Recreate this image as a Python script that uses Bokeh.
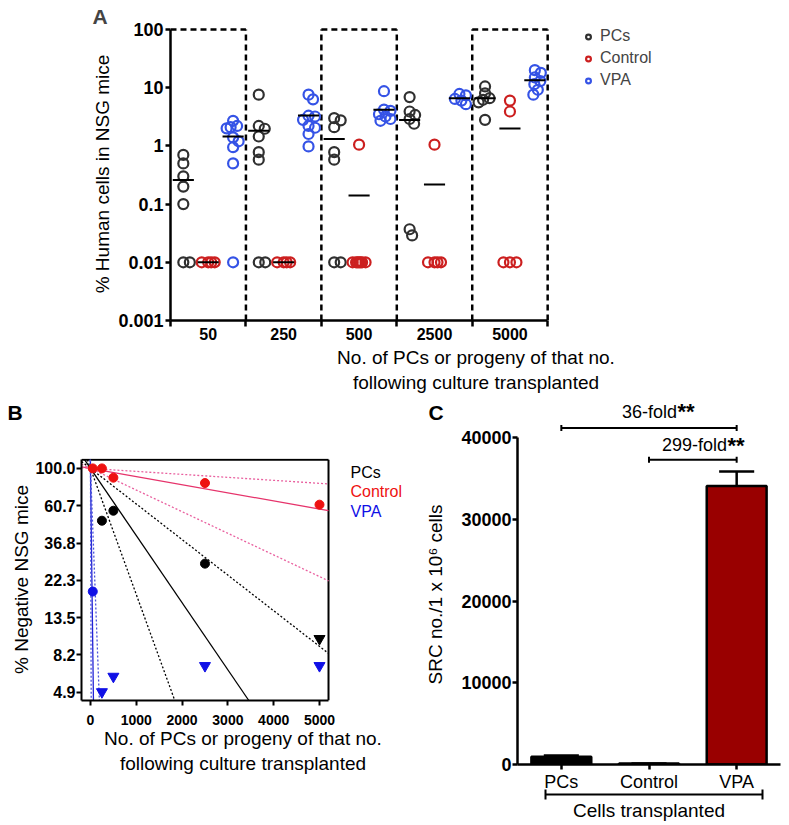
import numpy as np
from bokeh.plotting import figure
from bokeh.models import Range1d, FixedTicker, Legend, LegendItem, LinearAxis
from bokeh.layouts import column, row
from bokeh.embed import file_html
from bokeh.resources import INLINE
from bokeh.core.properties import value

FONT = "Liberation Sans"

# ---------------- Panel A data ----------------
doses_a = ["50", "250", "500", "2500", "5000"]
series_names = ["PCs", "Control", "VPA"]
pcs_a = [
    [0.7, 0.5, 0.3, 0.2, 0.1, 0.01, 0.01],
    [7.6, 2.2, 1.97, 1.45, 0.78, 0.58, 0.01, 0.01],
    [3.0, 2.75, 2.1, 0.78, 0.58, 0.01, 0.01],
    [6.9, 3.9, 3.4, 2.9, 2.4, 0.037, 0.029],
    [10.5, 8.0, 6.6, 6.2, 5.6, 2.8],
]
ctrl_a = [
    [0.01, 0.01, 0.01, 0.01],
    [0.01, 0.01, 0.01, 0.01],
    [1.05, 0.01, 0.01, 0.01, 0.01, 0.01, 0.01, 0.01],
    [1.05, 0.01, 0.01, 0.01, 0.01],
    [6.0, 3.9, 0.01, 0.01, 0.01],
]
vpa_a = [
    [2.7, 2.2, 2.1, 2.0, 1.4, 1.2, 0.95, 0.5, 0.01],
    [7.6, 6.3, 3.3, 3.2, 2.8, 2.2, 2.05, 1.6, 0.98],
    [8.7, 4.2, 4.0, 3.5, 3.2, 2.9, 2.7],
    [7.8, 7.4, 6.4, 6.0, 5.2],
    [20.0, 18.0, 15.0, 13.0, 11.5, 9.2, 7.6],
]
ticks_a_y = [0.001, 0.01, 0.1, 1, 10, 100]
ticklabels_a_y = ["0.001", "0.01", "0.1", "1", "10", "100"]
boxed_groups = [0, 2, 4]

# ---------------- Panel B data ----------------
pcs_b_dose = [250, 500, 2500]
pcs_b_neg = [49.6, 56.7, 27.9]
pcs_b_tri_dose = [5000]
pcs_b_tri_neg = [10.2]
ctrl_b_dose = [50, 250, 500, 2500, 5000]
ctrl_b_neg = [100.0, 100.0, 88.3, 82.2, 61.5]
vpa_b_dose = [50]
vpa_b_neg = [19.2]
vpa_b_tri_dose = [250, 500, 2500, 5000]
vpa_b_tri_neg = [5.0, 6.15, 7.1, 7.1]
# slopes (per cell) of the fitted lines: estimate, bound, bound
pcs_b_rates = [9.0e-4, 1.69e-3, 4.77e-4]
ctrl_b_rates = [1.09e-4, 2.9e-4, 4.0e-5]
vpa_b_rates = [0.048, 0.2, 0.016]
ticks_b_y = [100.0, 60.653, 36.788, 22.313, 13.534, 8.2085, 4.9787]
ticklabels_b_y = ["100.0", "60.7", "36.8", "22.3", "13.5", "8.2", "4.9"]
ticks_b_x = [0, 1000, 2000, 3000, 4000, 5000]

# ---------------- Panel C data ----------------
cats_c = ["PCs", "Control", "VPA"]
src_c = [947, 114, 34100]
err_c = [140, 20, 1760]
fold_labels = ["36-fold", "299-fold"]
fold_pairs = [(0, 2), (1, 2)]
ticks_c_y = [0, 10000, 20000, 30000, 40000]


def style_axis(ax, tick_size, line_w=2.5):
    ax.axis_line_width = line_w
    ax.major_tick_line_width = line_w
    ax.major_tick_in = 0
    ax.major_tick_out = 5
    ax.minor_tick_line_color = None
    ax.major_label_text_font = FONT
    ax.major_label_text_font_style = "bold"
    ax.major_label_text_font_size = tick_size
    ax.major_label_text_color = "black"
    ax.axis_label_text_font = FONT
    ax.axis_label_text_font_style = "normal"
    ax.axis_label_text_font_size = "19px"
    ax.axis_label_text_color = "black"


def bare(p):
    p.grid.visible = False
    p.outline_line_color = None
    p.background_fill_color = None
    p.border_fill_color = "white"


# ======================= Panel A =======================
PX_X = 75.43
PX_DEC = 58.2


def swarm(vals, center, min_d=6.5, max_off=6.5):
    placed = []
    xs = []
    cands = [0.0]
    for k in range(1, 40):
        cands += [k * 0.5, -k * 0.5]
    cands = [c for c in cands if abs(c) <= max_off]
    for v in vals:
        yp = np.log10(v) * PX_DEC
        best = None
        for c in cands:
            if all((c - px) ** 2 + (yp - py) ** 2 >= min_d ** 2 for px, py in placed):
                best = c
                break
        if best is None:
            best = max(cands, key=lambda c: min((c - px) ** 2 + (yp - py) ** 2 for px, py in placed))
        placed.append((best, yp))
        xs.append(center + best / PX_X)
    return xs


pA = figure(width=789, height=397, x_range=Range1d(-0.5, 7.6), y_range=Range1d(0.001, 108.2),
            y_axis_type="log", output_backend="svg", toolbar_location=None, frame_align=False,
            min_border_left=170, min_border_right=8, min_border_top=27, min_border_bottom=77)
bare(pA)
pA.title.text = "A"
pA.title.align = "left"
pA.title.offset = -78
pA.title.standoff = 0
pA.title.text_font = FONT
pA.title.text_font_size = "21px"
pA.title.text_font_style = "bold"

bx = [i + 0.5 for i in range(len(doses_a))]
pA.segment(x0=bx, y0=[ticks_a_y[0]] * len(bx), x1=bx, y1=[ticks_a_y[-1]] * len(bx),
           line_dash="6 4", line_width=2.5, line_color="black")
pA.segment(x0=[g - 0.5 for g in boxed_groups], x1=[g + 0.5 for g in boxed_groups],
           y0=[ticks_a_y[-1]] * len(boxed_groups), y1=[ticks_a_y[-1]] * len(boxed_groups),
           line_dash="6 4", line_width=2.5, line_color="black")

colors_a = ["#303030", "#cc1f1f", "#3553e6"]
offsets_a = [-0.33, 0.0, 0.33]
rendA = []
mean_x0, mean_x1, mean_y = [], [], []
for data, col, off in zip([pcs_a, ctrl_a, vpa_a], colors_a, offsets_a):
    xs, ys = [], []
    for g, vals in enumerate(data):
        order = sorted(vals, reverse=True)
        xs += swarm(order, g + off)
        ys += order
        m = float(np.mean(vals))
        mean_x0.append(g + off - 0.14)
        mean_x1.append(g + off + 0.14)
        mean_y.append(m)
    r = pA.scatter(x=xs, y=ys, marker="circle", size=10, fill_color=None,
                   line_color=col, line_width=2.2)
    rendA.append(r)
pA.segment(x0=mean_x0, x1=mean_x1, y0=mean_y, y1=mean_y, line_color="black", line_width=2)

pA.xaxis.ticker = FixedTicker(ticks=list(range(len(doses_a))),
                              minor_ticks=[i - 0.5 for i in range(len(doses_a) + 1)])
pA.xaxis.major_label_overrides = {i: d for i, d in enumerate(doses_a)}
pA.yaxis.ticker = FixedTicker(ticks=ticks_a_y)
pA.yaxis.major_label_overrides = {t: l for t, l in zip(ticks_a_y, ticklabels_a_y)}
style_axis(pA.xaxis[0], "16px")
style_axis(pA.yaxis[0], "18px")
pA.xaxis.major_tick_line_color = None
pA.xaxis.major_tick_out = 0
pA.xaxis.minor_tick_line_color = "black"
pA.xaxis.minor_tick_line_width = 2.5
pA.xaxis.minor_tick_out = 6
pA.xaxis.minor_tick_in = 0
pA.xaxis.major_label_standoff = 1
pA.xaxis.bounds = (-0.5, 4.5)
pA.yaxis.bounds = (ticks_a_y[0], ticks_a_y[-1])
pA.yaxis.major_label_standoff = 2
pA.xaxis.axis_label = "No. of PCs or progeny of that no.\nfollowing culture transplanted"
pA.yaxis.axis_label = "% Human cells in NSG mice"
pA.xaxis.axis_label_standoff = 4
pA.yaxis.axis_label_standoff = 2

legA = Legend(items=[LegendItem(label=n, renderers=[r]) for n, r in zip(series_names, rendA)],
              location=(412, 231), orientation="vertical", padding=0, margin=0, spacing=4,
              glyph_width=12, glyph_height=17, label_height=17, label_standoff=6,
              label_text_font=FONT, label_text_font_size="16px",
              border_line_color=None, background_fill_alpha=0)
pA.add_layout(legA)

# ============ strip with panel letters B, C and the top fold label ============
strip = figure(width=789, height=27, x_range=Range1d(0, 789), y_range=Range1d(27, 0),
               output_backend="svg", toolbar_location=None, frame_align=False,
               title_location=None, x_axis_location=None, y_axis_location=None,
               min_border_left=0, min_border_right=0, min_border_top=0, min_border_bottom=0)
bare(strip)
strip.text(x=[7, 428], y=[15.0, 15.0], text=["B", "C"], text_font=value(FONT),
           text_font_size="21px", text_font_style="bold", text_baseline="middle",
           text_align="left", text_color="black")
strip.text(x=[676.5], y=[14], text=[fold_labels[0]], text_font=value(FONT),
           text_font_size="18px", text_baseline="middle", text_align="right",
           text_color="black")
strip.text(x=[677], y=[13.5], text=["**"], text_font=value(FONT), text_font_size="22px",
           text_font_style="bold", text_baseline="middle", text_align="left",
           text_color="black")

# ======================= Panel B =======================
XB0, XB1 = -196, 5197
YB0, YB1 = 4.455, 112.4
pB = figure(width=404, height=401, x_range=Range1d(XB0, 6856), y_range=Range1d(YB0, 114.2),
            y_axis_type="log", output_backend="svg", toolbar_location=None, frame_align=False,
            title_location=None,
            min_border_left=81, min_border_right=0, min_border_top=34, min_border_bottom=125)
bare(pB)
# top and right sides of the box
pB.segment(x0=[XB0, XB1], x1=[XB1, XB1], y0=[YB1, YB0], y1=[YB1, YB1],
           line_color="black", line_width=2)


def ray(rate):
    x0 = XB0
    if 100 * np.exp(-rate * x0) > YB1:
        x0 = -np.log(YB1 / 100) / rate
    x1 = min(XB1, np.log(100 / YB0) / rate)
    return [x0, x1], [100 * np.exp(-rate * x0), 100 * np.exp(-rate * x1)]


line_styles = [
    (pcs_b_rates, "black", "black"),
    (ctrl_b_rates, "#e6336b", "#e9609f"),
    (vpa_b_rates, "#2323d6", "#4a52dc"),
]
for rates, c_solid, c_dot in line_styles:
    xs, ys = ray(rates[0])
    pB.line(xs, ys, line_color=c_solid, line_width=1.3)
    for rt in rates[1:]:
        xs, ys = ray(rt)
        pB.line(xs, ys, line_color=c_dot, line_width=1.3, line_dash="2 2")

pB.scatter(ctrl_b_dose, ctrl_b_neg, marker="circle", size=9, color="#ee1111")
pB.scatter(pcs_b_dose, pcs_b_neg, marker="circle", size=9, color="black")
pB.scatter(pcs_b_tri_dose, pcs_b_tri_neg, marker="inverted_triangle", size=11, color="black")
pB.scatter(vpa_b_dose, vpa_b_neg, marker="circle", size=9, color="#1010e6")
pB.scatter(vpa_b_tri_dose, vpa_b_tri_neg, marker="inverted_triangle", size=11, color="#1010e6")

pB.text(x=[5677] * 3, y=[94.4, 73.2, 56.0], text=series_names,
        text_color=["black", "#ee1111", "#1010e6"], text_font=value(FONT),
        text_font_size="16px", text_baseline="middle", text_align="left")

pB.xaxis.ticker = FixedTicker(ticks=ticks_b_x)
pB.yaxis.ticker = FixedTicker(ticks=ticks_b_y)
pB.yaxis.major_label_overrides = {t: l for t, l in zip(ticks_b_y, ticklabels_b_y)}
style_axis(pB.xaxis[0], "14px", 2)
style_axis(pB.yaxis[0], "16px", 2)
pB.xaxis.bounds = (XB0, XB1)
pB.yaxis.bounds = (YB0, YB1)
pB.xaxis.major_label_standoff = 9
pB.yaxis.major_label_standoff = 1
pB.xaxis.axis_label = "No. of PCs or progeny of that no.\nfollowing culture transplanted"
pB.yaxis.axis_label = "% Negative NSG mice"
pB.xaxis.axis_label_standoff = 0
pB.yaxis.axis_label_standoff = 0

# ======================= Panel C =======================
pC = figure(width=385, height=401, x_range=Range1d(0, 3), y_range=Range1d(0, 41616),
            output_backend="svg", toolbar_location=None, frame_align=False,
            title_location=None,
            min_border_left=113, min_border_right=9, min_border_top=0, min_border_bottom=61)
bare(pC)

xc = [i + 0.5 for i in range(len(cats_c))]
tops = [v + e for v, e in zip(src_c, err_c)]
pC.segment(x0=xc, x1=xc, y0=src_c, y1=tops, line_color="black", line_width=2.5)
pC.segment(x0=[x - 0.2 for x in xc], x1=[x + 0.2 for x in xc], y0=tops, y1=tops,
           line_color="black", line_width=2.5)
pC.vbar(x=xc, top=src_c, width=0.683, fill_color=["black", "white", "#990000"],
        line_color="black", line_width=2.5)

br_y = [41200, 37300]
cap = 370
for (a, b), yb in zip(fold_pairs, br_y):
    pC.segment(x0=[xc[a]], x1=[xc[b]], y0=[yb], y1=[yb], line_color="black", line_width=2)
    pC.segment(x0=[xc[a], xc[b]], x1=[xc[a], xc[b]], y0=[yb - cap] * 2, y1=[yb + cap] * 2,
               line_color="black", line_width=2)
pC.text(x=[2.39], y=[39106], text=[fold_labels[1]], text_font=value(FONT),
        text_font_size="18px", text_align="right", text_baseline="middle",
        text_color="black")
pC.text(x=[2.395], y=[39106], text=["**"], text_font=value(FONT), text_font_size="22px",
        text_font_style="bold", text_align="left", text_baseline="middle",
        text_color="black")

pC.xaxis.ticker = FixedTicker(ticks=xc)
pC.xaxis.major_label_overrides = {x: c for x, c in zip(xc, cats_c)}
pC.yaxis.ticker = FixedTicker(ticks=ticks_c_y)
style_axis(pC.xaxis[0], "18px")
style_axis(pC.yaxis[0], "18px")
pC.xaxis.major_label_text_font_style = "normal"
pC.xaxis.major_label_standoff = 2
pC.yaxis.major_label_standoff = 1
pC.yaxis.bounds = (0, 40000)
pC.yaxis.axis_label = "SRC no./1 x 10\u2076 cells"
pC.yaxis.axis_label_standoff = 12

ax2 = LinearAxis(ticker=FixedTicker(ticks=[0.32, 2.79]), bounds=(0.32, 2.79))
style_axis(ax2, "0px", 2)
ax2.major_tick_in = 5
ax2.major_tick_out = 5
ax2.major_label_standoff = 0
ax2.major_label_overrides = {0.32: "", 2.79: ""}
ax2.axis_label = "Cells transplanted"
ax2.axis_label_standoff = 0
pC.add_layout(ax2, "below")

layout = column(pA, strip, row(pB, pC))
with open("out.html", "w") as f:
    f.write(file_html(layout, INLINE))
